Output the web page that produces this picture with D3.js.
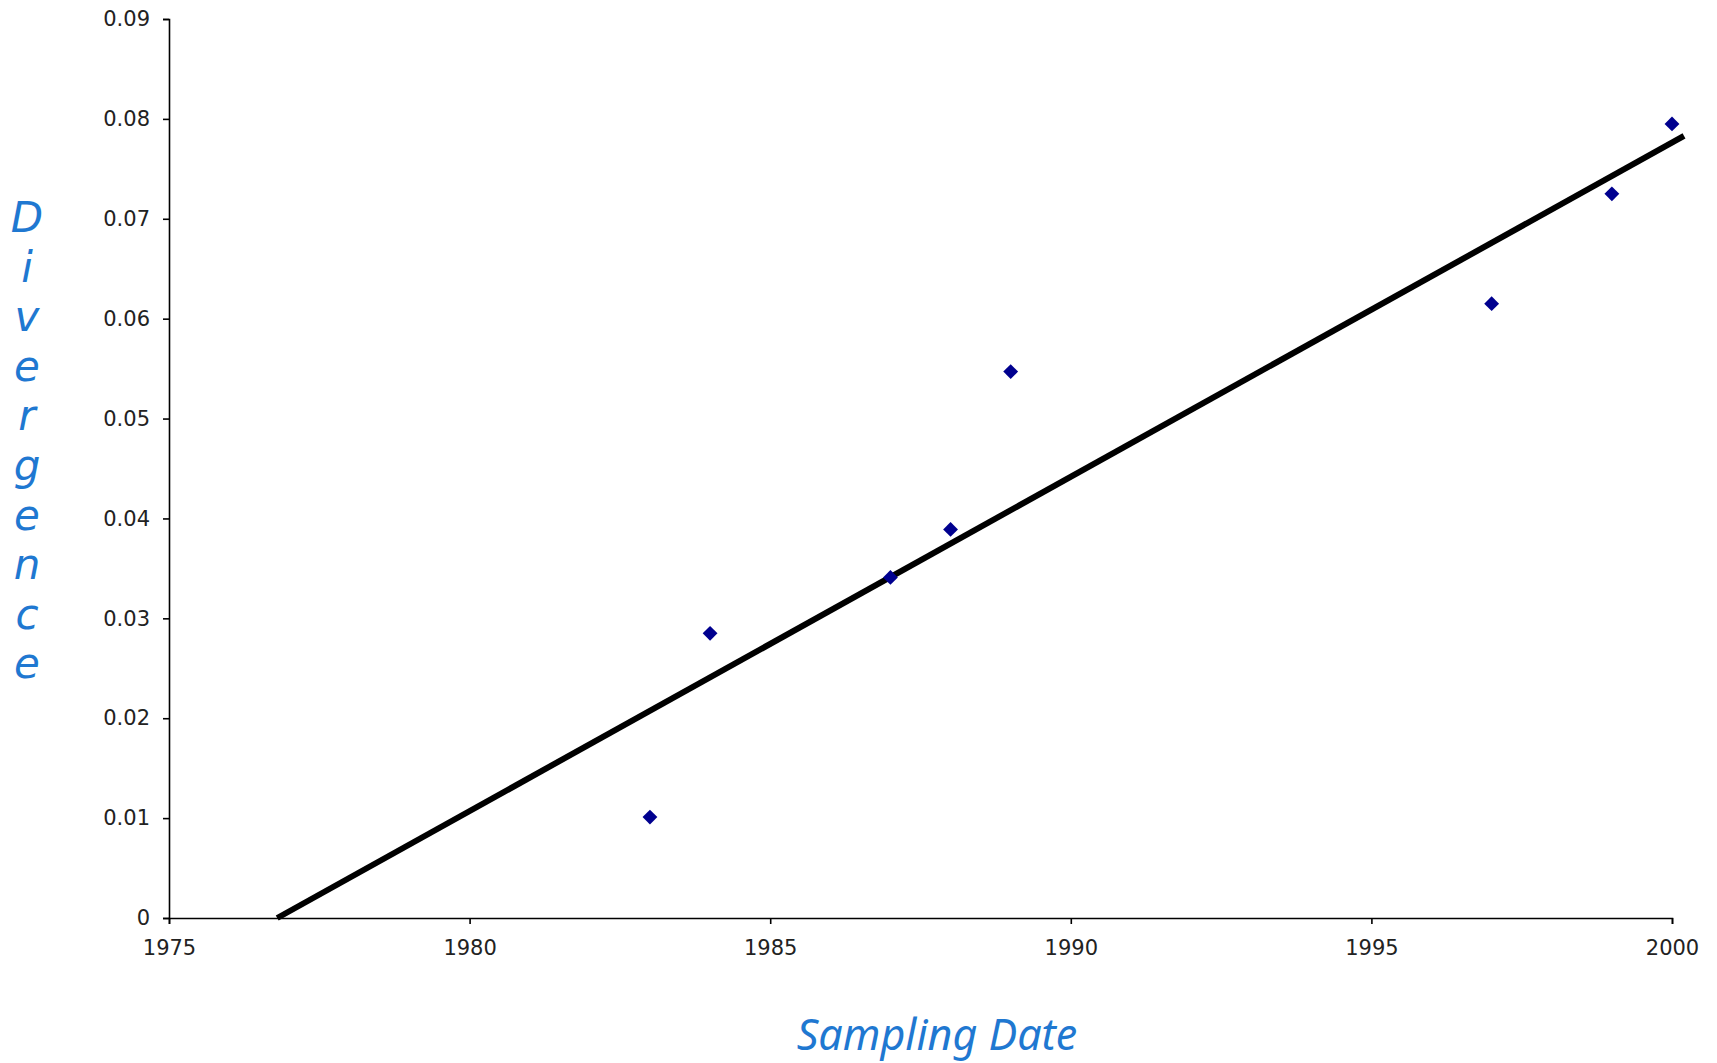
<!DOCTYPE html>
<html>
<head>
<meta charset="utf-8">
<script src="https://cdn.jsdelivr.net/npm/d3@7/dist/d3.min.js"></script>
<style>
  body { margin: 0; background: #fff; }
  .axis text { font-family: "DejaVu Sans", Verdana, sans-serif; font-size: 21px; fill: #222; }
  .axis path, .axis line { stroke: #000; stroke-width: 1.6px; }
  .label { font-family: "Comic Sans MS", "Noto Sans", sans-serif; font-style: italic; fill: #1f78d1; font-size: 43px; }
  .ylabel { font-family: "Comic Sans MS", "DejaVu Sans", sans-serif; font-style: italic; fill: #1f78d1; font-size: 42px; }
</style>
</head>
<body>
<div id="chart"></div>
<script>
// sampled points
const years = [1983, 1984, 1987, 1988, 1989, 1997, 1999, 2000];
const divergence = [0.0101, 0.0285, 0.0341, 0.0389, 0.0547, 0.0615, 0.0725, 0.0795];

// trend line end points
const trendYears = [1976.8, 2000.2];
const trendValues = [0, 0.0783];

const xTicks = [1975, 1980, 1985, 1990, 1995, 2000];
const yTicks = [0, 0.01, 0.02, 0.03, 0.04, 0.05, 0.06, 0.07, 0.08, 0.09];
const yTickLabels = ["0", "0.01", "0.02", "0.03", "0.04", "0.05", "0.06", "0.07", "0.08", "0.09"];

const xTitle = "Sampling Date";
const yTitle = "Divergence";

const W = 1717, H = 1063;
const margin = {top: 19, right: 45, bottom: 145, left: 169};
const width = W - margin.left - margin.right;
const height = H - margin.top - margin.bottom;

const svg = d3.select("#chart").append("svg")
  .attr("width", W)
  .attr("height", H);

const g = svg.append("g")
  .attr("transform", "translate(" + margin.left + "," + margin.top + ")");

const x = d3.scaleLinear().domain([1975, 2000]).range([0, width]);
const y = d3.scaleLinear().domain([0, 0.09]).range([height, 0]);

// axes
g.append("g")
  .attr("class", "axis")
  .call(d3.axisLeft(y).tickValues(yTicks).tickFormat((d, i) => yTickLabels[i]).tickSizeOuter(0).tickSize(6).tickPadding(13));

g.append("g")
  .attr("class", "axis")
  .attr("transform", "translate(0," + height + ")")
  .call(d3.axisBottom(x).tickValues(xTicks).tickFormat(d3.format("d")).tickSizeOuter(0).tickSize(6).tickPadding(16));

// trend line
const trend = trendYears.map((t, i) => ({year: t, v: trendValues[i]}));
g.append("path")
  .datum(trend)
  .attr("fill", "none")
  .attr("stroke", "#000")
  .attr("stroke-width", 6)
  .attr("d", d3.line().x(d => x(d.year)).y(d => y(d.v)));

// points
const pts = years.map((yr, i) => ({year: yr, v: divergence[i]}));
g.selectAll(".pt")
  .data(pts)
  .join("path")
  .attr("class", "pt")
  .attr("d", d3.symbol(d3.symbolSquare, 110))
  .attr("fill", "#00008f")
  .attr("transform", d => "translate(" + x(d.year) + "," + y(d.v) + ") rotate(45)");

// titles
svg.append("text")
  .attr("class", "label")
  .attr("x", 937)
  .attr("y", 1050)
  .attr("text-anchor", "middle")
  .text(xTitle);

// y title: letters stacked one under another
svg.append("text")
  .attr("class", "ylabel")
  .attr("text-anchor", "middle")
  .attr("y", 232)
  .selectAll("tspan")
  .data(yTitle.split(""))
  .join("tspan")
  .attr("x", 27)
  .attr("dy", (d, i) => i === 0 ? 0 : 49.6)
  .text(d => d);
</script>
</body>
</html>
